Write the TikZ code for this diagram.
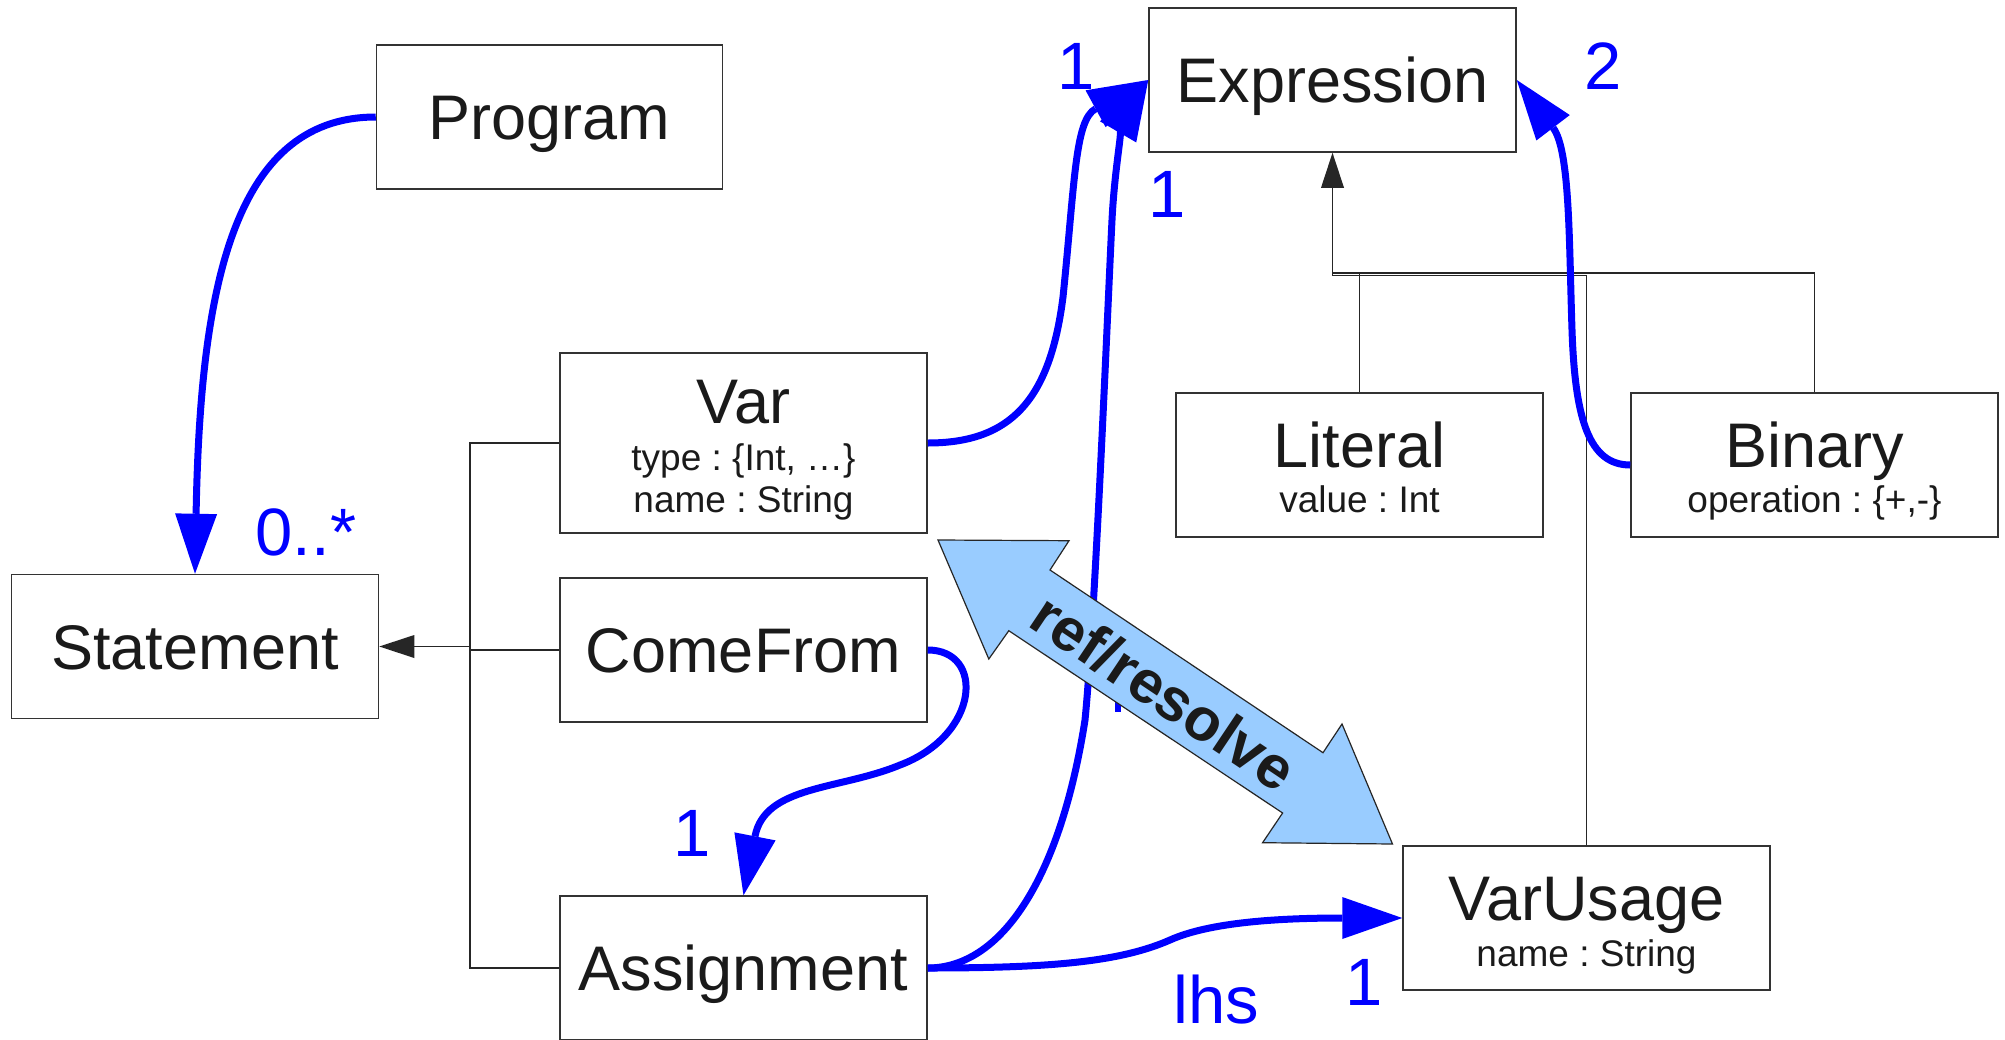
\documentclass[tikz,border=0pt]{standalone}
\usepackage{fontspec}
\setmainfont{Liberation Sans}
\usetikzlibrary{arrows.meta,calc}
\definecolor{refblue}{HTML}{0000FF}
\definecolor{bandfill}{HTML}{99CCFF}
\definecolor{ink}{HTML}{1A1A1A}
\newcommand\clsfont{\fontsize{63pt}{70pt}\selectfont}
\newcommand\attrfont{\fontsize{37pt}{42pt}\selectfont}
\newcommand\multfont{\fontsize{67pt}{74pt}\selectfont}
\frenchspacing
\begin{document}
\begin{tikzpicture}[x=1pt,y=-1pt,
  box/.style={draw=black!80, line width=1.5pt, minimum width=367pt, minimum height=144pt,
    inner sep=0pt, text=ink, font=\clsfont, text height=45pt, text depth=0pt},
  txt/.style={anchor=base, text=ink, inner sep=0pt},
  gen/.style={draw=black!85, line width=1.5pt},
  genarrow/.style={gen, -{Triangle[length=35pt,width=23pt,line width=0pt]}},
  assoc/.style={draw=refblue, line width=7pt, -{Triangle[length=60pt,width=42pt,line width=0pt]}},
  mult/.style={text=refblue, font=\multfont, anchor=base, inner sep=0pt},
]
\useasboundingbox (0,0) rectangle (2005,1039);
\fill[white] (0,0) rectangle (2005,1039);

% classes
\node[box, minimum width=346pt] (prog) at (549.5,117) {Program};
\node[box] (expr) at (1332.5,80) {Expression};
\node[box, minimum height=180pt] (var) at (743.5,443) {};
\node[box] (stmt) at (195,646.5) {Statement};
\node[box] (cf) at (743.5,650) {ComeFrom};
\node[box] (asg) at (743.5,968) {Assignment};
\node[box] (lit) at (1359.5,465) {};
\node[box] (bin) at (1814.5,465) {};
\node[box] (vu) at (1586.5,918) {};

% class names and attributes
\node[txt, font=\clsfont] (var-n) at (743.5,423) {Var};
\node[txt, font=\attrfont] (var-a1) at (743.5,470) {type : \{Int, …\}};
\node[txt, font=\attrfont] (var-a2) at (743.5,512) {name : String};
\node[txt, font=\clsfont] (lit-n) at (1359.5,467) {Literal};
\node[txt, font=\attrfont] (lit-a) at (1359.5,512) {value : Int};
\node[txt, font=\clsfont] (bin-n) at (1814.5,467) {Binary};
\node[txt, font=\attrfont] (bin-a) at (1814.5,512) {operation : \{+,-\}};
\node[txt, font=\clsfont] (vu-n) at (1586.5,920) {VarUsage};
\node[txt, font=\attrfont] (vu-a) at (1586.5,966) {name : String};

% generalisation to Statement
\coordinate (sj) at (470,646.5);
\draw[genarrow] (sj) -- (stmt.east);
\draw[gen] (var.west) -| (sj);
\draw[gen] (cf.west) -| (sj);
\draw[gen] (asg.west) -| (sj);

% generalisation to Expression
\coordinate (ej) at (1332.5,273);
\coordinate (ej2) at (1332.5,275.5);
\draw[genarrow] (ej) -- (expr.south);
\draw[gen] (bin.north) |- (ej);
\draw[gen] (lit.north) |- (ej);
\draw[gen] (vu.north) |- (ej2) -- (ej);

% associations
\draw[assoc] (prog.west) .. controls +(-147,0) and +(5,-273) .. (stmt.north);
\draw[assoc] (var.east) .. controls +(83,0) and (1050,400) .. (1063,297)
  .. controls (1075,180) and (1075,120) .. (expr.west);
\draw[assoc] (asg.east) .. controls +(73,0) and (1060,880) .. (1085,720)
  .. controls (1095,620) and (1108,300) .. (1112,220)
  .. controls (1115,160) and (1125,120) .. (expr.west);
\draw[assoc] (bin.west) .. controls +(-41,0) and (1575,420) .. (1572,330)
  .. controls (1569,240) and (1570,150) .. (expr.east);
\draw[assoc] (cf.east) .. controls (985,650) and (980,735) .. (900,765)
  .. controls (840,790) and (765,785) .. (asg.north);
\draw[assoc] (asg.east) .. controls +(123,0) and (1120,962) .. (1170,940)
  .. controls (1210,922) and (1280,918) .. (vu.west);
\draw[refblue, line width=6pt] (1117.5,690) -- (1117.5,712);

% multiplicities and role
\node[mult] (m-prog) at (306,555) {0..*};
\node[mult] (m-var) at (1076,89) {1};
\node[mult] (m-asg) at (1167,217) {1};
\node[mult] (m-bin) at (1603,89) {2};
\node[mult] (m-cf) at (692,856) {1};
\node[mult] (m-vu) at (1364,1005) {1};
\node[mult] (m-lhs) at (1216,1023) {lhs};

% ref/resolve double arrow
\draw[draw=black!85, line width=1.2pt, fill=bandfill, line join=miter]
  (938,540) -- (1069,540.7) -- (1050,570) -- (1323,752.7) -- (1342,724)
  -- (1392.5,844) -- (1262.6,842.7) -- (1282.6,813) -- (1008.8,630.7)
  -- (988.8,659) -- cycle;
\node[font=\fontsize{60pt}{66pt}\selectfont\bfseries, text=ink, rotate=-33.8, inner sep=0pt]
  (band-t) at (1164,692) {ref/resolve};
\end{tikzpicture}
\end{document}
